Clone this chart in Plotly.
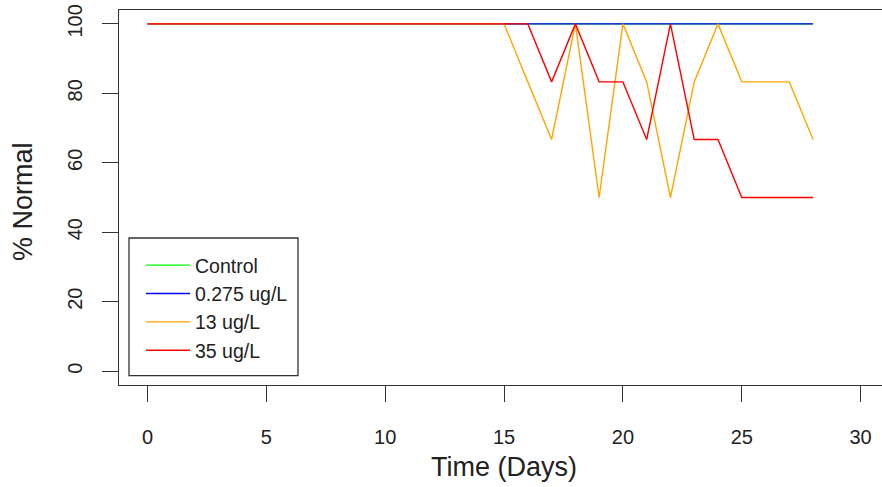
import plotly.graph_objects as go

days = [0, 1, 2, 3, 4, 5, 6, 7, 8, 9, 10, 11, 12, 13, 14, 15, 16, 17, 18, 19, 20, 21, 22, 23, 24, 25, 26, 27, 28]
control = [100, 100, 100, 100, 100, 100, 100, 100, 100, 100, 100, 100, 100, 100, 100, 100, 100, 100, 100, 100, 100, 100, 100, 100, 100, 100, 100, 100, 100]
dose_0275 = [100, 100, 100, 100, 100, 100, 100, 100, 100, 100, 100, 100, 100, 100, 100, 100, 100, 100, 100, 100, 100, 100, 100, 100, 100, 100, 100, 100, 100]
dose_13 = [100, 100, 100, 100, 100, 100, 100, 100, 100, 100, 100, 100, 100, 100, 100, 100, 83.3, 66.7, 100, 50, 100, 83.3, 50, 83.3, 100, 83.3, 83.3, 83.3, 66.7]
dose_35 = [100, 100, 100, 100, 100, 100, 100, 100, 100, 100, 100, 100, 100, 100, 100, 100, 100, 83.3, 100, 83.3, 83.3, 66.7, 100, 66.7, 66.7, 50, 50, 50, 50]

series_names = ["Control", "0.275 ug/L", "13 ug/L", "35 ug/L"]
series_values = [control, dose_0275, dose_13, dose_35]
series_colors = ["#00FF00", "#0000FF", "#FFA500", "#FF0000"]

x_ticks = [0, 5, 10, 15, 20, 25, 30]
y_ticks = [0, 20, 40, 60, 80, 100]

FONT = "Liberation Sans, Arial, sans-serif"
AX = "#333333"

fig = go.Figure()
for name, vals, col in zip(series_names, series_values, series_colors):
    fig.add_trace(go.Scatter(x=days, y=vals, mode="lines", name=name,
                             line=dict(color=col, width=1.4)))

fig.update_layout(
    width=882, height=487,
    margin=dict(l=119, r=0, t=10, b=102),
    paper_bgcolor="white", plot_bgcolor="white",
    font=dict(family=FONT, color="#222222"),
    showlegend=True,
    legend=dict(x=(141 - 119) / 763, y=(385 - 246) / 375, xanchor="left", yanchor="top",
                bgcolor="rgba(0,0,0,0)", borderwidth=0,
                font=dict(size=19.5, family=FONT, color="#222222"),
                itemwidth=44, tracegroupgap=0),
    xaxis=dict(range=[-1.2, 30.9], tickmode="array", tickvals=x_ticks,
               showgrid=False, zeroline=False, showline=True, mirror=True,
               linecolor=AX, linewidth=1.3, ticks="outside", ticklen=16,
               tickcolor=AX, tickwidth=1.3, tickfont=dict(size=20, family=FONT, color="#222222"),
               ticklabelstandoff=18),
    yaxis=dict(range=[-4, 104], tickmode="array", tickvals=y_ticks,
               showgrid=False, zeroline=False, showline=True, mirror=False,
               linecolor=AX, linewidth=1.3, ticks="outside", ticklen=16,
               tickcolor=AX, tickwidth=1.3, tickangle=-90,
               tickfont=dict(size=20, family=FONT, color="#222222"),
               ticklabelstandoff=12),
    annotations=[
        dict(text="Time (Days)", xref="x", yref="paper", x=15, y=(385 - 467) / 375,
             xanchor="center", yanchor="middle", showarrow=False,
             font=dict(size=27, family=FONT, color="#222222")),
        dict(text="% Normal", xref="paper", yref="paper", x=(23 - 119) / 763, y=(385 - 202) / 375,
             xanchor="center", yanchor="middle", textangle=-90, showarrow=False,
             font=dict(size=27, family=FONT, color="#222222")),
    ],
    shapes=[
        dict(type="rect", xref="paper", yref="paper",
             x0=(129 - 119) / 763, x1=(298 - 119) / 763,
             y0=(385 - 375.7) / 375, y1=(385 - 238) / 375,
             line=dict(color=AX, width=1.3), fillcolor="rgba(0,0,0,0)"),
    ],
)

fig.write_html("out.html")
